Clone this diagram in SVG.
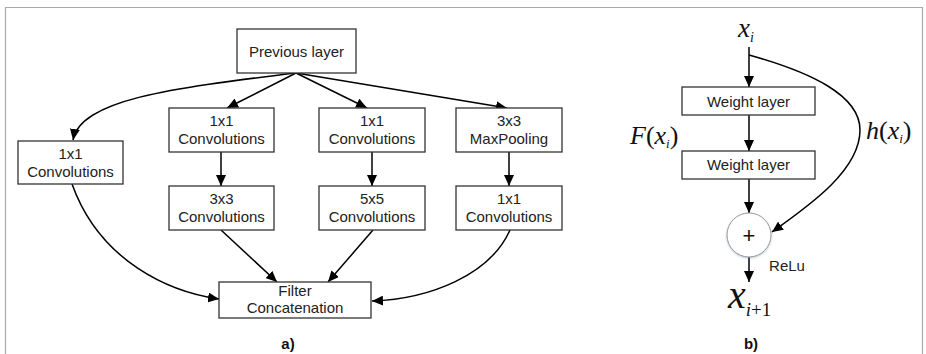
<svg xmlns="http://www.w3.org/2000/svg" width="926" height="354" viewBox="0 0 926 354">
  <defs>
    <marker id="arrow" markerUnits="userSpaceOnUse" markerWidth="12" markerHeight="10" refX="11" refY="5" orient="auto">
      <path d="M0,0 L11,5 L0,10 Z" fill="#000"/>
    </marker>
    <filter id="shadow" x="-30%" y="-30%" width="160%" height="160%">
      <feDropShadow dx="0" dy="1" stdDeviation="1" flood-color="#6a8fb0" flood-opacity="0.45"/>
    </filter>
  </defs>
  <style>
    .box { fill: #fff; stroke: #333; stroke-width: 1.3; }
    .lbl { font-family: "Liberation Sans", Arial, sans-serif; font-size: 15px; fill: #222; text-anchor: middle; }
    .plus { font-family: "Liberation Sans", Arial, sans-serif; font-size: 22px; fill: #111; text-anchor: middle; }
    .cap { font-family: "Liberation Sans", Arial, sans-serif; font-size: 15px; font-weight: bold; fill: #111; text-anchor: middle; }
    .math { font-family: "Liberation Serif", "Times New Roman", serif; font-style: italic; fill: #111; }
    .edge { fill: none; stroke: #000; stroke-width: 1.5; marker-end: url(#arrow); }
  </style>

  <rect width="926" height="354" fill="#fff"/>
  <!-- outer frame -->
  <path d="M5.5,360 L5.5,7.5 L922.5,7.5 L922.5,360" fill="none" stroke="#aaa" stroke-width="1.2"/>

  <!-- connectors -->
  <g id="connectors">
    <path class="edge" d="M296,73 C170,88 80,100 73,140"/>
    <path class="edge" d="M296,73 L227,108"/>
    <path class="edge" d="M296,73 L367,108"/>
    <path class="edge" d="M296,73 L507,108"/>
    <path class="edge" d="M221,152 L221,186"/>
    <path class="edge" d="M372,152 L372,186"/>
    <path class="edge" d="M509,152 L509,186"/>
    <path class="edge" d="M72,184 C100,262 170,292 219,299"/>
    <path class="edge" d="M221,230 L277,282"/>
    <path class="edge" d="M373,230 L328,282"/>
    <path class="edge" d="M510,230 C490,275 430,299 372,301"/>

    <path class="edge" d="M749,47 L749,87"/>
    <path class="edge" d="M749,115 L749,151"/>
    <path class="edge" d="M749,179 L749,213"/>
    <path class="edge" d="M749,257 L749,282"/>
    <path class="edge" d="M749,55 C810,72 860,95 860,130 C860,170 810,205 772,232"/>
  </g>

  <!-- a) inception module -->
  <g id="previous-layer">
    <rect class="box" x="237" y="29" width="119" height="44"/>
    <text class="lbl" x="296.5" y="57">Previous layer</text>
  </g>
  <g id="conv1x1-left">
    <rect class="box" x="18" y="141" width="105" height="43"/>
    <text class="lbl" x="70.5" y="158.5">1x1</text>
    <text class="lbl" x="70.5" y="177">Convolutions</text>
  </g>
  <g id="conv1x1-a">
    <rect class="box" x="169" y="108" width="105" height="44"/>
    <text class="lbl" x="221.5" y="126">1x1</text>
    <text class="lbl" x="221.5" y="144">Convolutions</text>
  </g>
  <g id="conv1x1-b">
    <rect class="box" x="319" y="108" width="106" height="44"/>
    <text class="lbl" x="372" y="126">1x1</text>
    <text class="lbl" x="372" y="144">Convolutions</text>
  </g>
  <g id="maxpool3x3">
    <rect class="box" x="456" y="108" width="106" height="44"/>
    <text class="lbl" x="509" y="126">3x3</text>
    <text class="lbl" x="509" y="144">MaxPooling</text>
  </g>
  <g id="conv3x3">
    <rect class="box" x="169" y="186" width="105" height="44"/>
    <text class="lbl" x="221.5" y="203.5">3x3</text>
    <text class="lbl" x="221.5" y="222">Convolutions</text>
  </g>
  <g id="conv5x5">
    <rect class="box" x="319" y="186" width="106" height="44"/>
    <text class="lbl" x="372" y="203.5">5x5</text>
    <text class="lbl" x="372" y="222">Convolutions</text>
  </g>
  <g id="conv1x1-c">
    <rect class="box" x="456" y="186" width="106" height="44"/>
    <text class="lbl" x="509" y="203.5">1x1</text>
    <text class="lbl" x="509" y="222">Convolutions</text>
  </g>
  <g id="filter-concat">
    <rect class="box" x="219" y="282" width="152" height="36"/>
    <text class="lbl" x="295" y="296">Filter</text>
    <text class="lbl" x="295" y="313">Concatenation</text>
  </g>
  <text class="cap" x="288" y="349">a)</text>

  <!-- b) residual block -->
  <g id="input-x">
    <text class="math" x="738" y="37" font-size="27">x<tspan font-size="14" dy="5">i</tspan></text>
  </g>
  <g id="weight-layer-1">
    <rect class="box" x="682" y="87" width="133" height="28"/>
    <text class="lbl" x="748.5" y="106.5">Weight layer</text>
  </g>
  <g id="weight-layer-2">
    <rect class="box" x="682" y="151" width="133" height="28"/>
    <text class="lbl" x="748.5" y="170">Weight layer</text>
  </g>
  <g id="f-label">
    <text class="math" x="630" y="144" font-size="26">F<tspan font-style="normal">(</tspan>x<tspan font-size="13" dy="4">i</tspan><tspan font-style="normal" dy="-4">)</tspan></text>
  </g>
  <g id="h-label">
    <text class="math" x="866" y="139" font-size="26">h<tspan font-style="normal">(</tspan>x<tspan font-size="13" dy="4">i</tspan><tspan font-style="normal" dy="-4">)</tspan></text>
  </g>
  <g id="sum">
    <circle cx="749" cy="235" r="22" fill="#fff" stroke="#999" stroke-width="1" filter="url(#shadow)"/>
    <text class="plus" x="749" y="243">+</text>
  </g>
  <text class="lbl" x="787" y="271">ReLu</text>
  <g id="output-x">
    <text class="math" x="728" y="308" font-size="40">x<tspan font-style="normal" font-size="19" dy="8"><tspan font-style="italic">i</tspan>+1</tspan></text>
  </g>
  <text class="cap" x="751" y="349">b)</text>
</svg>
